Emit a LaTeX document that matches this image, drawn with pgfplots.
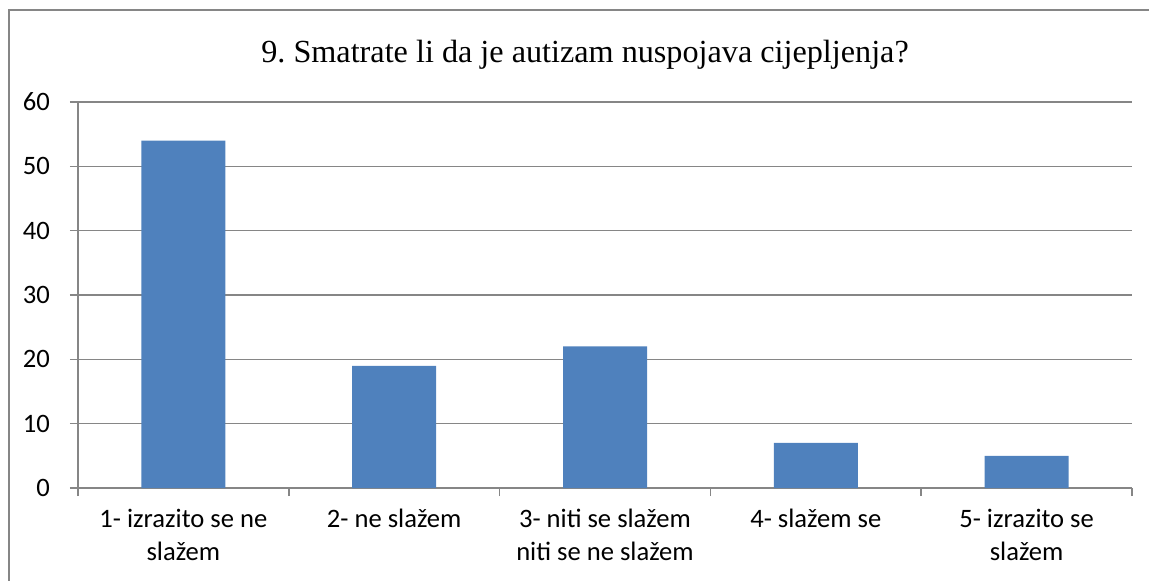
\documentclass[border=0pt]{standalone}
\usepackage{pgfplots}
\pgfplotsset{compat=1.18}
\usepackage{fontspec}
\setmainfont{Carlito}
\newfontfamily\titlefont{Liberation Serif}
\definecolor{barblue}{HTML}{4F81BD}
\definecolor{gridgray}{HTML}{868686}
\frenchspacing
\begin{document}
\begin{tikzpicture}
\path[use as bounding box, clip] (0pt,0pt) rectangle (574.5pt,290pt);
\draw[gridgray, line width=0.8pt] (4.5pt,285pt) rectangle (590pt,-20pt);
\node[font=\titlefont\fontsize{16.1}{19}\selectfont, anchor=center] at (292.5pt,262.5pt) {9. Smatrate li da je autizam nuspojava cijepljenja?};
\begin{axis}[
  at={(39pt,46pt)}, anchor=south west,
  scale only axis, width=527pt, height=193pt,
  xmin=0.5, xmax=5.5, ymin=0, ymax=60,
  ytick={0,10,...,60},
  xtick={1,2,3,4,5},
  xticklabels={{1- izrazito se ne\\slažem},{2- ne slažem},{3- niti se slažem\\niti se ne slažem},{4- slažem se},{5- izrazito se\\slažem}},
  minor xtick={0.5,1.5,...,5.5},
  major x tick style={draw=none},
  tick align=outside,
  major tick length=4pt, minor tick length=4pt,
  tick style={gridgray, line width=0.8pt},
  ymajorgrids, grid style={gridgray, line width=0.8pt},
  axis x line*=bottom, axis y line*=left,
  axis line style={gridgray, line width=0.8pt, -},
  /pgf/number format/assume math mode=true,
  ticklabel style={font=\fontsize{13.3}{16.5}\selectfont},
  xticklabel style={align=center, anchor=north, yshift=-3pt},
  yticklabel style={anchor=east, xshift=-6.5pt},
]
\addplot[ybar, bar width=42pt, fill=barblue, draw=none] coordinates {(1,54) (2,19) (3,22) (4,7) (5,5)};
\end{axis}
\end{tikzpicture}
\end{document}
